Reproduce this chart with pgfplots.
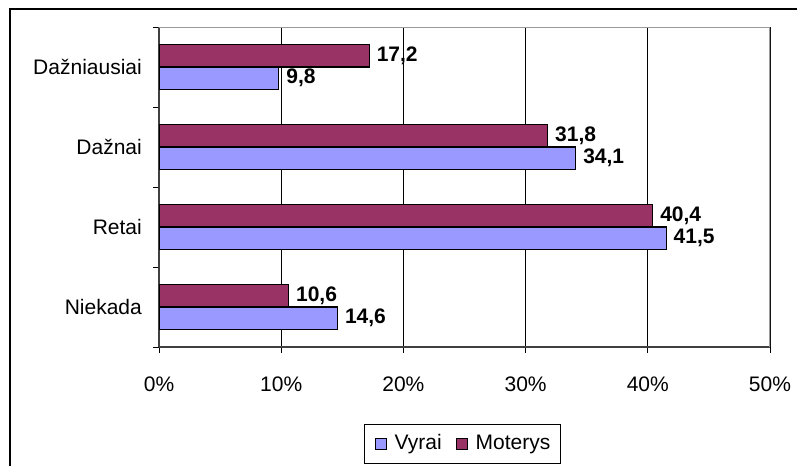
\documentclass[border=0pt]{standalone}
\usepackage{fontspec}
\setmainfont{Liberation Sans}
\usepackage{pgfplots}
\pgfplotsset{compat=1.18}
\definecolor{vyrai}{HTML}{9999FF}
\definecolor{moterys}{HTML}{993366}
\definecolor{plotgrey}{HTML}{9A9A9A}
\newcommand{\chartfont}{\fontsize{21bp}{25bp}\selectfont}
\begin{document}
\chartfont
\begin{tikzpicture}
\path[use as bounding box] (0,0) rectangle (797bp,-466bp);
\draw[line width=2bp] (10bp,-466bp) -- (10bp,-9bp) -- (797bp,-9bp);
\begin{axis}[
  at={(159bp,-347bp)}, anchor=south west,
  scale only axis, width=611bp, height=320bp,
  xbar=0pt, bar width=22.5bp,
  xmin=0, xmax=50, ymin=-0.5, ymax=3.5,
  axis x line*=bottom, axis y line*=left,
  axis line style={line width=1.6bp, black!75, -},
  tick align=outside, major tick length=6bp,
  tick style={black, line width=1bp},
  xtick={0,10,...,50}, xticklabels={0\%,10\%,20\%,30\%,40\%,50\%},
  ytick={-0.5,0.5,1.5,2.5,3.5}, yticklabels={},
  extra y ticks={0,1,2,3},
  extra y tick labels={Niekada,Retai,Dažnai,Dažniausiai},
  extra y tick style={major tick length=0pt},
  xmajorgrids, major grid style={black, line width=0.8bp},
  every tick label/.append style={font=\chartfont},
  xticklabel style={yshift=-17bp},
  yticklabel style={xshift=-10bp},
  nodes near coords,
  every node near coord/.append style={font=\chartfont\bfseries, anchor=west, xshift=0bp},
  /pgf/number format/.cd, fixed, fixed zerofill, precision=1, use comma, assume math mode=true, /pgfplots/.cd,
  legend columns=2,
  legend style={at={(axis description cs:0.4967,-0.303)}, anchor=center, draw=black, line width=1bp,
    font=\chartfont, inner xsep=10bp, inner ysep=10bp,
    nodes={inner sep=0pt},
    /tikz/every odd column/.append style={column sep=8bp},
    /tikz/every even column/.append style={column sep=14bp}},
  legend image code/.code={\draw[#1, draw=black, line width=1bp] (0bp,-5.5bp) rectangle (11bp,5.5bp);},
]
\addplot[fill=vyrai, draw=black, line width=1.2bp] coordinates {(14.6,0) (41.5,1) (34.1,2) (9.8,3)};
\addplot[fill=moterys, draw=black, line width=1.2bp] coordinates {(10.6,0) (40.4,1) (31.8,2) (17.2,3)};
\legend{Vyrai,Moterys}
\draw[plotgrey, line width=1.5bp] (rel axis cs:0,1) -- (rel axis cs:1,1) -- (rel axis cs:1,0);
\end{axis}
\end{tikzpicture}
\end{document}
